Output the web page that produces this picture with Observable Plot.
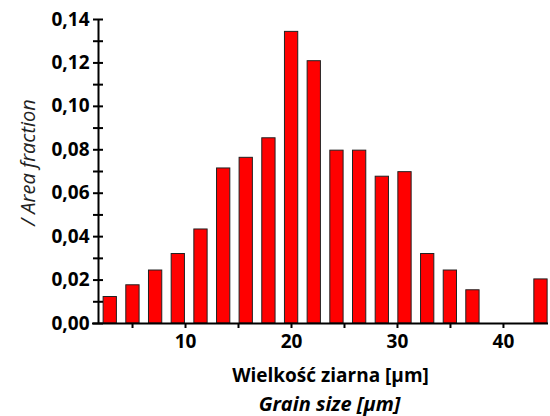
<!DOCTYPE html>
<html>
<head>
<meta charset="utf-8">
<script src="https://cdn.jsdelivr.net/npm/d3@7"></script>
<script src="https://cdn.jsdelivr.net/npm/@observablehq/plot@0.6"></script>
<style>
  html, body { margin: 0; padding: 0; background: #fff; }
  #chart svg { display: block; }
</style>
</head>
<body>
<div id="chart"></div>
<script>
// Bin centres (µm) and area fractions
const binCenters = [2.9, 5.04, 7.18, 9.32, 11.46, 13.6, 15.73, 17.87, 20.01, 22.15,
                    24.29, 26.43, 28.57, 30.71, 32.85, 34.99, 37.12, 39.26, 41.4, 43.54];
const areaFraction = [0.0122, 0.0176, 0.0244, 0.032, 0.0433, 0.0714, 0.0763, 0.0853, 0.1343, 0.1208,
                      0.0796, 0.0796, 0.0676, 0.0697, 0.032, 0.0244, 0.0153, 0, 0, 0.0203];
const binWidth = 2.14;
const yMajorTicks = [0, 0.02, 0.04, 0.06, 0.08, 0.10, 0.12, 0.14];
const yMinorTicks = [0, 0.01, 0.02, 0.03, 0.04, 0.05, 0.06, 0.07, 0.08, 0.09, 0.10, 0.11, 0.12, 0.13, 0.14];
const xMajorTicks = [10, 20, 30, 40];
const xMinorTicks = [5, 10, 15, 20, 25, 30, 35, 40];
const xTitlePl = "Wielkość ziarna [µm]";
const xTitleEn = "Grain size [µm]";
const yTitle = "/ Area fraction";

const bins = binCenters.map((c, i) => ({x1: c - binWidth / 2, x2: c + binWidth / 2, y: areaFraction[i]}))
  .filter(d => d.y > 0);

const fmt = d => d.toFixed(2).replace(".", ",");
const font = "'Open Sans', sans-serif";

const chart = Plot.plot({
  width: 550,
  height: 416,
  marginLeft: 98,
  marginRight: 2,
  marginTop: 19,
  marginBottom: 93,
  style: {fontFamily: font, fontSize: "19px", fontWeight: "bold", color: "#000", background: "#fff"},
  x: {domain: [1.79, 44.25], axis: null},
  y: {domain: [0, 0.14], axis: null},
  marks: [
    Plot.rectY(bins, {x1: "x1", x2: "x2", y: "y", fill: "#ff0000", stroke: "#222", strokeWidth: 1, insetLeft: 4.7, insetRight: 4.7}),
    // y axis line
    Plot.ruleX([1.79], {stroke: "#000", strokeWidth: 2}),
    // x axis line
    Plot.ruleY([0], {stroke: "#000", strokeWidth: 2, insetLeft: -6}),
    // crossing y ticks
    Plot.axisY(yMinorTicks, {anchor: "left", tickSize: 10, dx: 5, tickFormat: () => "", label: null, strokeWidth: 2}),
    Plot.axisY(yMajorTicks, {anchor: "left", tickSize: 0, tickPadding: 9, tickFormat: fmt, label: null, fontSize: 19, fontWeight: "bold", fill: "#000"}),
    // x ticks
    Plot.axisX(xMinorTicks, {anchor: "bottom", tickSize: 5, tickFormat: () => "", label: null, strokeWidth: 2}),
    Plot.axisX(xMajorTicks, {anchor: "bottom", tickSize: 0, tickPadding: 11, tickFormat: d => String(d), label: null, fontSize: 19, fontWeight: "bold", fill: "#000"}),
    // titles
    Plot.text([xTitlePl], {frameAnchor: "bottom", textAnchor: "middle", lineAnchor: "middle", dx: 7, dy: 52, fontSize: 19, fontWeight: "bold", fill: "#000"}),
    Plot.text([xTitleEn], {frameAnchor: "bottom", textAnchor: "middle", lineAnchor: "middle", dx: 6, dy: 81, fontSize: 20, fontWeight: "bold", fontStyle: "italic", fill: "#000"}),
    Plot.text([yTitle], {frameAnchor: "left", textAnchor: "middle", lineAnchor: "middle", dx: -70, dy: -9, rotate: -90, fontSize: 20, fontWeight: "normal", fontStyle: "italic", fill: "#222"})
  ]
});
document.getElementById("chart").appendChild(chart);
</script>
</body>
</html>
